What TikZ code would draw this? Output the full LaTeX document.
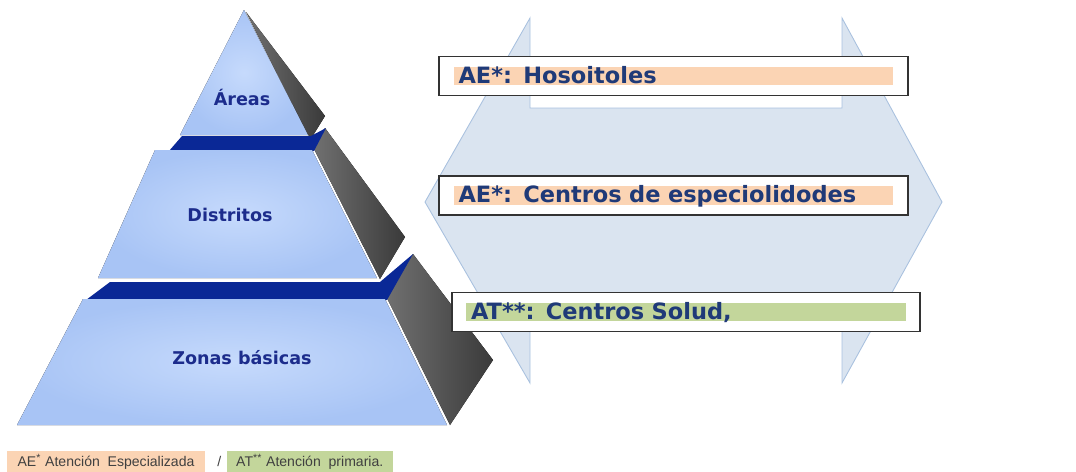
\documentclass[tikz,border=0pt]{standalone}
\usepackage{fontspec}
\setmainfont{Liberation Sans}
\newfontfamily\boxfont{DejaVu Sans}
\usepackage{tikz}
\usetikzlibrary{positioning,shapes.geometric,calc}
\definecolor{pyrlight}{HTML}{C6DAFC}
\definecolor{pyrdark}{HTML}{A8C4F5}
\definecolor{navyband}{HTML}{0A2896}
\definecolor{labelnavy}{HTML}{1C2C8C}
\definecolor{shadelight}{HTML}{707070}
\definecolor{shadedark}{HTML}{3A3A3A}
\definecolor{arrowfill}{HTML}{DAE4F0}
\definecolor{arrowline}{HTML}{A9C1DF}
\definecolor{framegray}{HTML}{333333}
\definecolor{aeorange}{HTML}{FBD4B4}
\definecolor{atgreen}{HTML}{C3D69B}
\definecolor{bartext}{HTML}{1F3A78}

\begin{document}
\begin{tikzpicture}[x=0.02cm, y=-0.02cm,
  tier/.style={inner color=pyrlight, outer color=pyrdark},
  shadow/.style={left color=shadelight, right color=shadedark},
  band/.style={fill=navyband},
  level/.style={font=\boxfont\bfseries\fontsize{10}{12}\selectfont, text=labelnavy},
  frame/.style={draw=framegray, line width=1.1pt, fill=white,
                minimum width=9.38cm, minimum height=0.78cm, inner sep=0pt},
  bar/.style={inner xsep=0.1cm, inner ysep=0pt, text width=8.6cm, align=left,
              text height=0.33cm, text depth=0.045cm, text=bartext,
              font=\boxfont\bfseries\fontsize{12.8}{15}\selectfont},
  aebar/.style={bar, fill=aeorange},
  atbar/.style={bar, fill=atgreen},
  legend/.style={font=\fontsize{8}{9}\selectfont, text=black!75,
                 inner xsep=1pt, inner ysep=1.5pt, minimum height=0.34cm}
]
  \useasboundingbox (0,0) rectangle (1076,471);

  % Double arrow behind the boxes
  \draw[fill=arrowfill, draw=arrowline, line width=0.5pt]
    (530,108) -- (530,18) -- (425,202) -- (530,383) -- (530,315)
    -- (842,315) -- (842,383) -- (942,202) -- (842,18) -- (842,108) -- cycle;

  % Pyramid: dark side faces
  \fill[shadow] (246,12) -- (325,116) -- (312,137) -- (308,135) -- cycle;
  \fill[shadow] (314,149) -- (325,128) -- (405,237) -- (380,279) -- cycle;
  \fill[shadow] (387,298) -- (413,254) -- (493,360) -- (450,425) -- cycle;

  % Pyramid: navy steps
  \fill[band] (169,151) -- (182,136) -- (311,136) -- (326,128) -- (314,151) -- cycle;
  \fill[band] (86,300) -- (110,282) -- (380,282) -- (413,254) -- (387,300) -- cycle;

  % Pyramid: tiers
  \fill[tier] (244,10) -- (308,135) -- (180,135) -- cycle;
  \fill[tier] (155,150) -- (312,150) -- (377,278) -- (98,278) -- cycle;
  \fill[tier] (83,299) -- (385,299) -- (447,425) -- (17,425) -- cycle;

  \node[level] (areas) at (242,97) {Áreas};
  \node[level] (distritos) at (230,215) {Distritos};
  \node[level] (zonas) at (242,358) {Zonas básicas};

  % Hospitals
  \node[frame] (hospbox) at (673.5,76) {};
  \node[aebar] (hosp) at (hospbox.center) {AE*: Hosoitoles};

  % Specialty centres
  \node[frame] (espbox) at (673.5,195.5) {};
  \node[aebar] (esp) at (espbox.center) {AE*: Centros de especiolidodes};

  % Health centres
  \node[frame] (saludbox) at (686,312) {};
  \node[atbar] (salud) at (saludbox.center) {AT**: Centros Solud,};

  % Legend
  \node[legend, fill=aeorange, minimum width=3.96cm] (aelegend) at (106,461.5)
    {AE\textsuperscript{*}\ Atención\ \ Especializada};
  \node[legend, right=0.2cm of aelegend] (slash) {/};
  \node[legend, fill=atgreen, minimum width=3.32cm, right=0.06cm of slash] (atlegend)
    {AT\textsuperscript{**}\ Atención\ \ primaria.};
\end{tikzpicture}
\end{document}
